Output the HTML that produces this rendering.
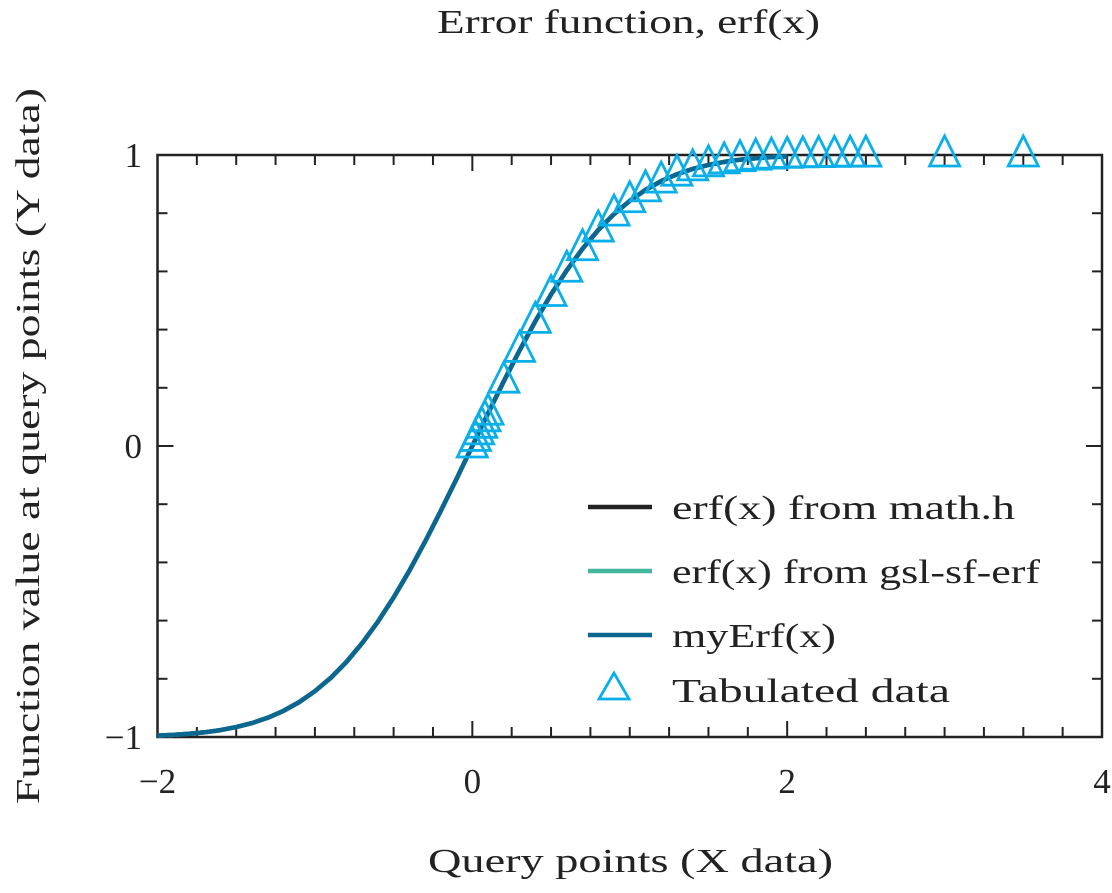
<!DOCTYPE html>
<html><head><meta charset="utf-8"><style>
body{margin:0;background:#fff}
svg text{font-family:"Liberation Serif",serif;fill:#222}
</style></head><body>
<svg width="1112" height="888" viewBox="0 0 1112 888">
<g id="plot"></g>
</svg>
<script>
const lineX=[-2,-1.9,-1.8,-1.7,-1.6,-1.5,-1.4,-1.3,-1.2,-1.1,-1,-0.9,-0.8,-0.7,-0.6,-0.5,-0.4,-0.3,-0.2,-0.1,0,0.1,0.2,0.3,0.4,0.5,0.6,0.7,0.8,0.9,1,1.1,1.2,1.3,1.4,1.5,1.6,1.7,1.8,1.9,2];
const lineY=[-0.99532,-0.99279,-0.98909,-0.98379,-0.97635,-0.96611,-0.95229,-0.93401,-0.91031,-0.88021,-0.8427,-0.79691,-0.7421,-0.6778,-0.60386,-0.5205,-0.42839,-0.32863,-0.2227,-0.11246,0,0.11246,0.2227,0.32863,0.42839,0.5205,0.60386,0.6778,0.7421,0.79691,0.8427,0.88021,0.91031,0.93401,0.95229,0.96611,0.97635,0.98379,0.98909,0.99279,0.99532];
const tabX=[0,0.02,0.04,0.06,0.08,0.1,0.2,0.3,0.4,0.5,0.6,0.7,0.8,0.9,1,1.1,1.2,1.3,1.4,1.5,1.6,1.7,1.8,1.9,2,2.1,2.2,2.3,2.4,2.5,3,3.5];
const tabY=[0,0.02256,0.04511,0.06762,0.09007,0.11246,0.2227,0.32863,0.42839,0.5205,0.60386,0.6778,0.7421,0.79691,0.8427,0.88021,0.91031,0.93401,0.95229,0.96611,0.97635,0.98379,0.98909,0.99279,0.99532,0.99702,0.99814,0.99886,0.99931,0.99959,0.99998,1];
const xTicks=[-2,0,2,4];
const xTickLabels=["\u22122","0","2","4"];
const yTicks=[-1,0,1];
const yTickLabels=["\u22121","0","1"];
const X0=157.5,X1=1102,Y0=737,Y1=155;
const sx=v=>X0+(v+2)/6*(X1-X0);
const sy=v=>Y0-(v+1)/2*(Y0-Y1);
const g=document.getElementById('plot');
const NS='http://www.w3.org/2000/svg';
function mk(t,a,txt){const e=document.createElementNS(NS,t);for(const k in a)e.setAttribute(k,a[k]);if(txt!=null)e.textContent=txt;g.appendChild(e);return e;}
let e;
for(let v=-2;v<=4.001;v+=0.25){
 const maj=Math.abs(v-Math.round(v/2)*2)<1e-6;
 e=mk('line',{x1:sx(v),x2:sx(v),y1:Y0,y2:Y0-(maj?16:10),stroke:'#222','stroke-width':2});
 
 e=mk('line',{x1:sx(v),x2:sx(v),y1:Y1,y2:Y1+(maj?16:10),stroke:'#222','stroke-width':2});
 
}
for(let v=-1;v<=1.001;v+=0.2){
 const maj=Math.abs(v-Math.round(v))<1e-6;
 e=mk('line',{x1:X0,x2:X0+(maj?16:10),y1:sy(v),y2:sy(v),stroke:'#222','stroke-width':2});
 
 e=mk('line',{x1:X1,x2:X1-(maj?16:10),y1:sy(v),y2:sy(v),stroke:'#222','stroke-width':2});
 
}
e=mk('rect',{x:X0,y:Y1,width:X1-X0,height:Y0-Y1,fill:'none',stroke:'#222','stroke-width':2.5});

xTicks.forEach((v,i)=>{e=mk('text',{x:sx(v),y:793,'text-anchor':'middle','font-size':35},xTickLabels[i]);
 });
yTicks.forEach((v,i)=>{e=mk('text',{x:142,y:sy(v)+12,'text-anchor':'end','font-size':35},yTickLabels[i]);
 });
const cols=['#222222','#45b69b','#0b6690'];
const names=['line-math-h','line-gsl','line-myerf'];
cols.forEach((c,k)=>{
 const d=lineX.map((x,i)=>(i?'L':'M')+sx(x).toFixed(1)+','+sy(lineY[i]).toFixed(1)).join('');
 e=mk('path',{d:d,fill:'none',stroke:c,'stroke-width':4.5,'stroke-linejoin':'round'});
 
});
function tri(cx,cy){return `M${cx-15},${cy+11}L${cx},${cy-19}L${cx+15},${cy+11}Z`;}
tabX.forEach((x,i)=>{
 e=mk('path',{d:tri(sx(x),sy(tabY[i])),fill:'none',stroke:'#0aaee8','stroke-width':2.8});
 
});
const legY=[507,571,635];
const legT=['erf(x) from math.h','erf(x) from gsl-sf-erf','myErf(x)'];
const legW=[343,368,164];
legY.forEach((y,i)=>{
 e=mk('line',{x1:588,x2:652,y1:y,y2:y,stroke:cols[i],'stroke-width':4.5});
 
 e=mk('text',{x:672,y:y+12,'font-size':34,textLength:legW[i],lengthAdjust:'spacingAndGlyphs'},legT[i]);
 
});
e=mk('path',{d:'M599,699L614,673L629,699Z',fill:'none',stroke:'#0aaee8','stroke-width':2.8});

e=mk('text',{x:672,y:702,'font-size':34,textLength:278,lengthAdjust:'spacingAndGlyphs'},'Tabulated data');

e=mk('text',{x:437,y:33,'font-size':34,textLength:383,lengthAdjust:'spacingAndGlyphs'},'Error function, erf(x)');

e=mk('text',{x:428,y:872,'font-size':34,textLength:405,lengthAdjust:'spacingAndGlyphs'},'Query points (X data)');

e=mk('text',{x:-358,y:0,'font-size':34,textLength:716,lengthAdjust:'spacingAndGlyphs',transform:'translate(39,446) rotate(-90)'},'Function value at query points (Y data)');

</script>
</body></html>
